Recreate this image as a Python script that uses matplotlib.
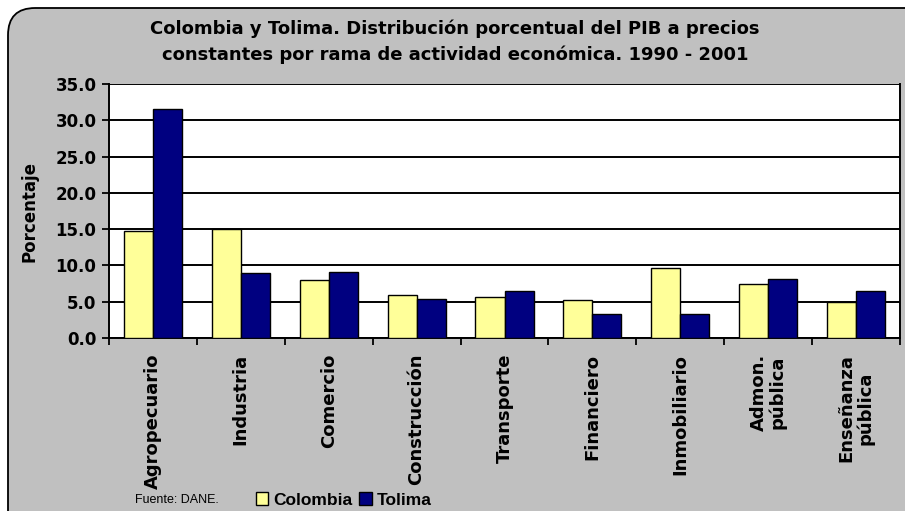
import matplotlib
matplotlib.use("Agg")
import numpy as np
import matplotlib.pyplot as plt
from matplotlib.patches import FancyBboxPatch, Patch

# data
ramas = ["Agropecuario", "Industria", "Comercio", "Construcción", "Transporte",
         "Financiero", "Inmobiliario", "Admon.\npública", "Enseñanza\npública"]
colombia = [14.7, 15.0, 8.0, 5.9, 5.6, 5.3, 9.7, 7.5, 4.9]
tolima = [31.6, 8.9, 9.1, 5.4, 6.5, 3.3, 3.3, 8.1, 6.5]
yticks = [0, 5, 10, 15, 20, 25, 30, 35]

col_yellow = "#FFFF99"
col_navy = "#000080"
gray = "#C0C0C0"

plt.rcParams["font.family"] = ["DejaVu Sans"]

fig = plt.figure(figsize=(9.05, 5.11), dpi=100)
fig.patch.set_facecolor("white")

# rounded gray chart area, running off the right and bottom edges
box = FancyBboxPatch((8 / 905, -0.5), 1.5, 1.5 - 8 / 511, transform=fig.transFigure,
                     boxstyle="round,pad=0,rounding_size=0.03",
                     mutation_aspect=905 / 511,
                     facecolor=gray, edgecolor="black", linewidth=1.3, zorder=-5)
fig.patches.append(box)

ax = fig.add_axes([109 / 905, 1 - 338 / 511, (900 - 109) / 905, (338 - 84) / 511])
ax.set_zorder(2)
ax.set_facecolor("white")

x = np.arange(len(ramas))
w = 0.33
ax.bar(x - w / 2, colombia, w, color=col_yellow, edgecolor="black", linewidth=1.0, zorder=3)
ax.bar(x + w / 2, tolima, w, color=col_navy, edgecolor="black", linewidth=1.0, zorder=3)

ax.set_xlim(-0.5, len(ramas) - 0.5)
ax.set_ylim(0, 35)
ax.set_yticks(yticks)
ax.set_yticklabels([f"{v:.1f}" for v in yticks], fontsize=12, fontweight="bold")
ax.yaxis.grid(True, color="black", linewidth=1.4, zorder=1)
ax.set_axisbelow(True)

ax.set_xticks(x)
ax.set_xticklabels([])
ax.tick_params(axis="x", which="major", length=0)
ax.set_xticks(np.arange(-0.5, len(ramas), 1), minor=True)
ax.tick_params(axis="x", which="minor", length=5, width=1.3, direction="out")
ax.tick_params(axis="y", length=5, width=1.3, direction="out", pad=4)

for s in ["left", "bottom", "right"]:
    ax.spines[s].set_linewidth(1.4)
ax.spines["top"].set_visible(False)

for i, r in enumerate(ramas):
    ax.text(i, -2.2, r, rotation=90, ha="center", va="top", fontsize=13,
            fontweight="bold", linespacing=1.05)

ax.set_ylabel("Porcentaje", fontsize=12, fontweight="bold")
ax.yaxis.set_label_coords((38 - 109) / 791, 0.5)

fig.text(0.503, 1 - 42 / 511,
         "Colombia y Tolima. Distribución porcentual del PIB a precios\n"
         "constantes por rama de actividad económica. 1990 - 2001",
         ha="center", va="center", fontsize=13, fontweight="bold",
         linespacing=1.55)

fig.text(135 / 905, 11 / 511, "Fuente: DANE.", fontsize=9, ha="left", va="center",
         family="Liberation Sans")

handles = [Patch(facecolor=col_yellow, edgecolor="black", linewidth=1),
           Patch(facecolor=col_navy, edgecolor="black", linewidth=1)]
fig.legend(handles, ["Colombia", "Tolima"], loc="center left",
           bbox_to_anchor=(256 / 905, 11 / 511), ncol=2, frameon=False,
           prop={"weight": "bold", "size": 12.5, "family": "Liberation Sans"},
           handlelength=0.7, handleheight=0.7, handletextpad=0.3,
           columnspacing=0.4, borderpad=0, borderaxespad=0)

fig.savefig("out.png", dpi=100, facecolor=fig.get_facecolor())
